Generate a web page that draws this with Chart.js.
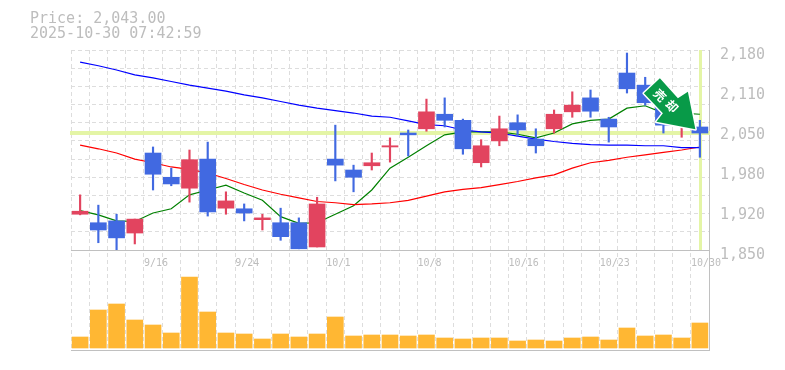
<!DOCTYPE html>
<html><head><meta charset="utf-8">
<style>html,body{margin:0;padding:0;background:#fff}canvas{display:block}</style>
<script src="https://cdn.jsdelivr.net/npm/chart.js@4"></script></head>
<body><canvas id="c" width="785" height="370"></canvas>
<script>
const dates=['9/9','9/10','9/11','9/12','9/16','9/17','9/18','9/19','9/22','9/24','9/25','9/26','9/29','9/30','10/1','10/2','10/3','10/6','10/7','10/8','10/9','10/10','10/14','10/15','10/16','10/17','10/20','10/21','10/22','10/23','10/24','10/27','10/28','10/29','10/30'];
const shownDates=['9/16','9/24','10/1','10/8','10/16','10/23','10/30'];
const opens=[1909,1895,1898,1878,2010,1970,1952,2000,1919,1918,1900,1895,1895,1855,2000,1982,1989,2020,2043,2050,2074,2064,1994,2030,2060,2033,2050,2078,2101,2066,2142,2122,2091,2064,2053];
const closes=[1914,1883,1870,1901,1975,1959,1999,1913,1931,1911,1903,1872,1852,1926,1990,1970,1994,2022,2040,2078,2064,2017,2022,2050,2048,2022,2074,2089,2079,2053,2116,2093,2056,2084,2043];
const highs=[1941,1924,1909,1901,2020,1985,2015,2028,1946,1926,1909,1919,1903,1937,2056,1990,2010,2035,2048,2099,2101,2066,2032,2071,2073,2050,2081,2111,2114,2069,2175,2135,2114,2101,2064];
const lows=[1908,1862,1850,1860,1949,1956,1929,1906,1909,1898,1883,1866,1852,1855,1964,1946,1982,1995,2005,2046,2053,2008,1987,2022,2038,2010,2043,2069,2069,2028,2109,2089,2043,2036,2003];
const maLong=[2160,2154,2147,2139,2134,2128,2122,2117,2112,2106,2101,2095,2089,2084,2080,2076,2071,2069,2063,2057,2055,2048,2045,2043,2038,2033,2029,2026,2024,2023,2023,2022,2022,2019,2019];
const maMid=[2023,2017,2010,2000,1994,1987,1983,1977,1968,1958,1949,1942,1936,1930,1928,1925,1926,1928,1932,1939,1946,1950,1953,1958,1963,1969,1974,1985,1994,1998,2003,2007,2011,2015,2020];
const maShort=[1915,1908,1898,1897,1911,1918,1941,1949,1957,1944,1932,1905,1894,1895,1909,1923,1949,1985,2003,2022,2040,2045,2045,2045,2041,2035,2043,2058,2064,2066,2084,2088,2076,2076,2074];
const volumes=[11,38,44,28,23,15,71,36,15,14,9,14,11,14,31,12,13,13,12,13,10,9,10,10,7,8,7,10,11,8,20,12,13,10,25];
const priceLabels=[2180,2114,2048,1982,1916,1850];
const lastPrice=2043;
const headerLines=['Price: 2,043.00','2025-10-30 07:42:59'];
const badgeText=['売','却'];
const RED='#e2445f',BLUE='#4169e1',GRID='#dddddd',AXIS='#c0c0c0',TXT='#bdbdbd';
const MONO='"DejaVu Sans Mono","Liberation Mono",monospace';
const candleColors=opens.map((o,i)=>closes[i]>=o?RED:BLUE);

const overlay={id:'overlay',
 beforeDatasetsDraw(ch){
  const c=ch.ctx,a=ch.chartArea,y=ch.scales.y,x=ch.scales.x;
  const py=y.getPixelForValue(lastPrice),px=x.getPixelForValue(dates.length-1);
  c.save();c.fillStyle='#e4f5a6';
  c.fillRect(a.left-1,Math.round(py)-2,a.right-a.left+2,4);
  c.fillRect(Math.round(px)-1,y.top,3,y.bottom-y.top);
  c.restore();
 },
 afterDraw(ch){
  const c=ch.ctx,y=ch.scales.y,x=ch.scales.x;
  c.save();
  c.fillStyle=TXT;c.font='15px '+MONO;c.textBaseline='middle';c.textAlign='left';
  headerLines.forEach((t,i)=>c.fillText(t,30,19+i*15));
  const tx=x.getPixelForValue(dates.length-1)-4.5,ty=y.getPixelForValue(lastPrice)-3.7;
  const pts=[[-35.5,-51],[-51.5,-36],[-17.5,-31],[-7.5,-37.5],[0,0],[-39,-7.5],[-32.5,-16]];
  const order=[0,2,3,4,5,6,1];
  c.beginPath();order.forEach((k,i)=>{const p=pts[k];i?c.lineTo(tx+p[0],ty+p[1]):c.moveTo(tx+p[0],ty+p[1]);});c.closePath();
  c.lineJoin='round';c.strokeStyle='#fff';c.lineWidth=3;c.stroke();
  c.fillStyle='#089a48';c.fill();
  c.fillStyle='#fff';c.font='bold 12px "Noto Sans CJK JP"';c.textAlign='center';c.textBaseline='middle';
  badgeText.forEach((t,i)=>{c.save();c.translate(tx-35.5+i*12,ty-34+i*11);c.rotate(Math.PI/4);c.fillText(t,0,0);c.restore();});
  c.restore();
 }};

new Chart(document.getElementById('c'),{
 data:{labels:dates,datasets:[
  {type:'line',data:maLong,borderColor:'#0000ff',borderWidth:1.2,pointRadius:0,tension:0,order:5,yAxisID:'y'},
  {type:'line',data:maMid,borderColor:'#ff0000',borderWidth:1.2,pointRadius:0,tension:0,order:5,yAxisID:'y'},
  {type:'line',data:maShort,borderColor:'#008000',borderWidth:1.2,pointRadius:0,tension:0,order:5,yAxisID:'y'},
  {type:'bar',data:lows.map((l,i)=>[l,highs[i]]),backgroundColor:candleColors,barThickness:1.5,grouped:false,order:2,yAxisID:'y'},
  {type:'bar',data:opens.map((o,i)=>[o,closes[i]]),backgroundColor:candleColors,barThickness:16,grouped:false,order:1,yAxisID:'y'},
  {type:'bar',data:volumes,backgroundColor:'#ffb733',barThickness:16,grouped:false,order:1,yAxisID:'yVol'}
 ]},
 plugins:[overlay],
 options:{responsive:false,animation:false,
  layout:{padding:{left:71,top:50,bottom:20,right:0}},
  plugins:{legend:{display:false},tooltip:{enabled:false}},
  scales:{
   x:{type:'category',position:{y:1850},offset:true,
    grid:{color:GRID,lineWidth:1,drawTicks:false,offset:true},
    border:{color:AXIS,width:1,dash:[4,3]},
    ticks:{autoSkip:false,maxRotation:0,minRotation:0,align:'start',labelOffset:-9,padding:7,color:TXT,
     font:{family:MONO,size:10},
     callback(v){const l=this.getLabelForValue(v);return shownDates.includes(l)?l:'';}}},
   y:{position:'right',stack:'p',stackWeight:2,min:1850,max:2180,weight:1,
    afterFit(s){s.width=76;},
    grid:{color:c=>(2180-c.tick.value)%30===0?GRID:'rgba(0,0,0,0)',drawTicks:false},
    border:{color:AXIS,width:1,dash:[4,3]},
    ticks:{stepSize:6,autoSkip:false,padding:11,labelOffset:5,color:TXT,
     font:{family:MONO,size:15},
     callback(v){if(!priceLabels.includes(v))return '';const r=Math.round(v/10)*10;return r.toLocaleString('en-US');}}},
   yVol:{position:'right',stack:'p',stackWeight:1,min:-2,max:98,weight:2,
    afterFit(s){s.width=76;},
    afterBuildTicks(s){s.ticks=[{value:-2}];},
    grid:{color:AXIS,drawTicks:false},
    border:{color:AXIS,width:1},
    ticks:{display:false}}
  }}
});
</script></body></html>
